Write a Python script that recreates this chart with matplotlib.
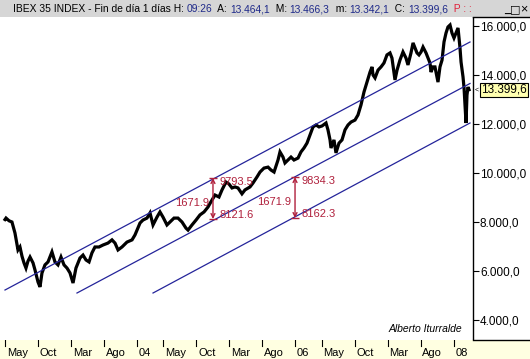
import matplotlib
matplotlib.use('Agg')
import matplotlib.pyplot as plt
from matplotlib.lines import Line2D
from matplotlib.patches import Rectangle

plt.rcParams['font.family'] = ['Liberation Sans', 'DejaVu Sans']

# IBEX 35 closes (x = decimal year)
years = [2002.333, 2002.346, 2002.384, 2002.421, 2002.459, 2002.497, 2002.522, 2002.548,
         2002.573, 2002.598, 2002.623, 2002.649, 2002.687, 2002.712, 2002.750, 2002.775,
         2002.800, 2002.838, 2002.876, 2002.926, 2002.964, 2003.002, 2003.040, 2003.078,
         2003.116, 2003.154, 2003.192, 2003.229, 2003.280, 2003.318, 2003.356, 2003.394,
         2003.431, 2003.469, 2003.520, 2003.570, 2003.633, 2003.684, 2003.722, 2003.760,
         2003.810, 2003.873, 2003.937, 2003.974, 2004.038, 2004.075, 2004.126, 2004.164,
         2004.202, 2004.252, 2004.290, 2004.328, 2004.378, 2004.416, 2004.467, 2004.517,
         2004.568, 2004.618, 2004.644, 2004.694, 2004.745, 2004.795, 2004.846, 2004.896,
         2004.947, 2004.985, 2005.035, 2005.073, 2005.123, 2005.161, 2005.199, 2005.237,
         2005.275, 2005.325, 2005.363, 2005.426, 2005.464, 2005.515, 2005.553, 2005.603,
         2005.654, 2005.692, 2005.730, 2005.780, 2005.805, 2005.843, 2005.868, 2005.906,
         2005.944, 2005.982, 2006.033, 2006.070, 2006.108, 2006.146, 2006.184, 2006.222,
         2006.260, 2006.298, 2006.336, 2006.386, 2006.411, 2006.437, 2006.449, 2006.487,
         2006.512, 2006.550, 2006.588, 2006.626, 2006.664, 2006.702, 2006.752, 2006.790,
         2006.828, 2006.866, 2006.904, 2006.942, 2006.967, 2006.980, 2007.005, 2007.043,
         2007.081, 2007.118, 2007.156, 2007.194, 2007.219, 2007.245, 2007.257, 2007.283,
         2007.320, 2007.358, 2007.396, 2007.421, 2007.459, 2007.485, 2007.510, 2007.535,
         2007.560, 2007.586, 2007.611, 2007.649, 2007.674, 2007.699, 2007.712, 2007.737,
         2007.762, 2007.788, 2007.800, 2007.825, 2007.851, 2007.876, 2007.901, 2007.926,
         2007.952, 2007.977, 2008.002, 2008.027, 2008.053, 2008.078, 2008.091, 2008.116,
         2008.129, 2008.141, 2008.154, 2008.166, 2008.179, 2008.192]
closes = [8100, 8160, 8050, 8000, 7550, 6860, 6980, 6600,
          6330, 6120, 6400, 6570, 6330, 6040, 5550, 5350,
          5920, 6250, 6370, 6780, 6370, 6250, 6570, 6250,
          6120, 5920, 5510, 6120, 6530, 6650, 6450, 6370,
          6740, 6980, 6980, 7060, 7140, 7270, 7140, 6860,
          6980, 7180, 7270, 7470, 7960, 8080, 8160, 8370,
          7880, 8200, 8410, 8200, 7880, 8000, 8160, 8160,
          8000, 7750, 7670, 7880, 8080, 8290, 8410, 8610,
          8900, 9100, 9020, 9310, 9630, 9550, 9390, 9430,
          9390, 9150, 9310, 9430, 9590, 9840, 10040, 10200,
          10240, 10120, 10040, 10530, 10860, 10650, 10410, 10530,
          10650, 10530, 10610, 10860, 11020, 11220, 11550, 11880,
          11960, 11880, 11920, 12040, 11760, 11350, 11020, 11350,
          10820, 11220, 11350, 11760, 11960, 12080, 12160, 12370,
          12780, 13310, 13710, 14120, 14330, 14000, 13880, 14200,
          14330, 14490, 14820, 14900, 14690, 14080, 13800, 14200,
          14610, 14940, 14690, 14410, 14900, 15310, 15100, 14900,
          14820, 14940, 15140, 14900, 14690, 14490, 14120, 14330,
          14330, 13920, 13710, 14330, 14610, 15350, 15710, 15960,
          16040, 15710, 15510, 15710, 15920, 15100, 14530, 13920,
          13470, 12780, 12040, 13180, 13510, 13399.6]

# channel lines: (x0, y0, x1, y1)
channel_upper = (2002.333, 5224, 2008.204, 15347)
channel_mid = (2003.242, 5102, 2008.204, 13653)
channel_low = (2004.202, 5102, 2008.204, 12041)

# channel width measurements
meas_x = [2004.959, 2005.995]
meas_top = [9793.5, 9834.3]
meas_bot = [8121.6, 8162.3]
meas_width = ['1671.9', '1671.9']

ytick_vals = [4000, 6000, 8000, 10000, 12000, 14000, 16000]
ytick_lbls = ['4.000,0', '6.000,0', '8.000,0', '10.000,0', '12.000,0', '14.000,0', '16.000,0']

xtick_pos = [2002.333, 2002.750, 2003.167, 2003.583, 2004.000, 2004.333, 2004.750, 2005.167,
             2005.583, 2006.000, 2006.333, 2006.750, 2007.167, 2007.583, 2008.000]
xtick_lbls = ['May', 'Oct', 'Mar', 'Ago', '04', 'May', 'Oct', 'Mar', 'Ago', '06', 'May', 'Oct',
              'Mar', 'Ago', '08']

last_close = 13399.6
last_lbl = '13.399,6'
header = [('IBEX 35 INDEX - Fin de día 1 días H: ', 'black'), ('09:26', '#1f2a8a'),
          ('  A: ', 'black'), ('13.464,1', '#1f2a8a'), ('  M: ', 'black'), ('13.466,3', '#1f2a8a'),
          ('  m: ', 'black'), ('13.342,1', '#1f2a8a'), ('  C: ', 'black'), ('13.399,6', '#1f2a8a'),
          ('  P : :', '#e0203a')]

W, H = 530, 359
XMIN, XMAX = 2002.270, 2008.242
YMIN, YMAX = 3184, 16367
RED = '#b0203c'
BLUE = '#24249a'

fig = plt.figure(figsize=(W / 100, H / 100), dpi=100)
fig.patch.set_facecolor('white')

# title band
fig.add_artist(Rectangle((0, (H - 17) / H), 1, 17 / H, transform=fig.transFigure,
                         facecolor='#d6d6d6', edgecolor='none'))

ax = fig.add_axes([0, 19 / H, 473 / W, 323 / H])
ax.plot(years, closes, color='black', lw=2.3, solid_joinstyle='miter')
for x0, y0, x1, y1 in (channel_upper, channel_mid, channel_low):
    ax.plot([x0, x1], [y0, y1], color=BLUE, lw=0.9)

for x, top, bot, w in zip(meas_x, meas_top, meas_bot, meas_width):
    ax.annotate('', xy=(x, top), xytext=(x, bot),
                arrowprops=dict(arrowstyle='<->', color=RED, lw=1.0,
                                mutation_scale=7, shrinkA=0, shrinkB=0))
    ax.plot([x, x], [top, bot], ls='none', marker='_', ms=6, mew=1.0, color=RED)
    ax.annotate(f'{top}', xy=(x, top), xytext=(5, -3), textcoords='offset points',
                ha='left', va='center', color=RED, fontsize=8)
    ax.annotate(f'{bot}', xy=(x, bot), xytext=(5, 3), textcoords='offset points',
                ha='left', va='center', color=RED, fontsize=8)
    ax.annotate(w, xy=(x, (top + bot) / 2), xytext=(-3, -3), textcoords='offset points',
                ha='right', va='center', color=RED, fontsize=8)

ax.set_xlim(XMIN, XMAX)
ax.set_ylim(YMIN, YMAX)
ax.set_xticks([])
ax.yaxis.tick_right()
ax.set_yticks(ytick_vals)
ax.set_yticklabels(ytick_lbls, fontsize=8.5)
ax.tick_params(axis='y', direction='out', length=4, width=0.8, pad=1)
for s in ('left', 'top', 'bottom'):
    ax.spines[s].set_visible(False)
ax.spines['right'].set_linewidth(1.0)

ax.text(0.977, 0.035, 'Alberto Iturralde', transform=ax.transAxes, ha='right', va='center',
        fontsize=7.5, style='italic')

# last value tag
ax.annotate(last_lbl, xy=(XMAX, last_close), xytext=(6, 0), textcoords='offset points',
            ha='left', va='center', fontsize=8.5, annotation_clip=False,
            bbox=dict(boxstyle='square,pad=0.1', facecolor='#ffffb0', edgecolor='black', lw=0.8))
ax.annotate('<', xy=(XMAX, last_close), xytext=(1, 0), textcoords='offset points',
            ha='left', va='center', fontsize=5, annotation_clip=False)

# right box border
fig.add_artist(Line2D([473 / W, 1], [(H - 17) / H] * 2, color='black', lw=1.0))
fig.add_artist(Line2D([473 / W, 1], [19 / H] * 2, color='black', lw=1.0))

# date strip
axs = fig.add_axes([0, 0, 1, 19 / H])
axs.set_facecolor('#ffffe1')
axs.set_xlim(XMIN, XMIN + (XMAX - XMIN) * W / 473)
axs.set_ylim(0, 1)
axs.set_xticks([])
axs.set_yticks([])
for s in axs.spines.values():
    s.set_visible(False)
for pos, lbl in zip(xtick_pos, xtick_lbls):
    axs.plot([pos, pos], [1.0, 0.66], color='black', lw=0.8)
    axs.annotate(lbl, xy=(pos, 0.32), xytext=(1.2, 0), textcoords='offset points',
                 ha='left', va='center', fontsize=8)

# header text, placed piece by piece
renderer = fig.canvas.get_renderer()
xpos = 13 / W
for txt, col in header:
    t = fig.text(xpos, (H - 9) / H, txt, color=col, fontsize=7.4, ha='left', va='center')
    bb = t.get_window_extent(renderer)
    xpos += bb.width / (W)
fig.text(507 / W, (H - 10) / H, '_', fontsize=8, ha='center', va='center', fontweight='bold')
fig.text(515 / W, (H - 9) / H, '□', fontsize=8, ha='center', va='center', family='DejaVu Sans')
fig.text(524 / W, (H - 9) / H, '×', fontsize=9, ha='center', va='center')

fig.savefig('out.png', dpi=100)
